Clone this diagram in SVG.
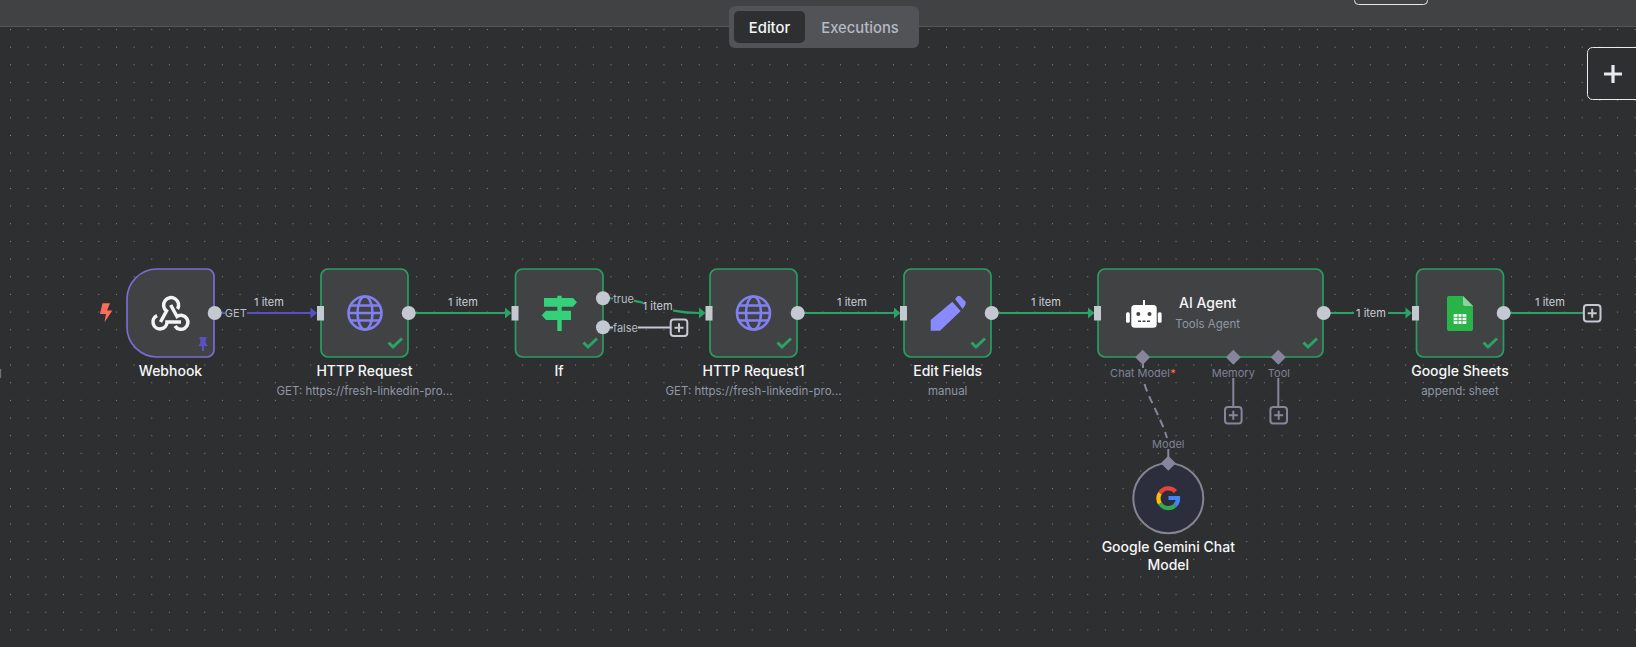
<svg xmlns="http://www.w3.org/2000/svg" width="1636" height="647" viewBox="0 0 1636 647">
<style>
text{font-family:Inter,"Liberation Sans",sans-serif;text-anchor:middle}
.t{font-size:14px;font-weight:500;fill:#f5f6f8}
.s{font-size:11.500px;fill:#8f97a6}
.i{font-size:11px;fill:#cbd0d8}
.h{font-size:11px;fill:#7f8298}
.p{font-size:11px;fill:#b7bcc6}
.tab{font-size:14.800px;font-weight:500}
.n{fill:#414244;stroke:#2a9d63;stroke-width:1.700}
.in{fill:#c4c8d1}
.out{fill:#c4c8d1}
.c{fill:none;stroke:#2aa366;stroke-width:2.200}
.a{fill:#2aa366}
.ck{fill:none;stroke:#2aa366;stroke-width:3}
.d{fill:#85869c}
.sub{fill:none;stroke:#85869c;stroke-width:2}
.g{fill:none;stroke:#8080f0;stroke-width:2.600}
.bg{fill:#2e2f30}
</style>
<defs>
<pattern id="dots" x="10" y="29" width="17.660" height="17.660" patternUnits="userSpaceOnUse"><rect x="0" y="0" width="1" height="1" fill="#85878a"/></pattern>
<g id="globe"><circle r="16.500" class="g"/><ellipse rx="7.500" ry="16.500" class="g"/><path class="g" d="M-16.500 0H16.500M-14.500-7.500H14.500M-14.500 7.500H14.500"/></g>
<path id="check" class="ck" d="M-6.500-1.500l4.500 4.500 9-8.500"/>
<g id="plus"><rect x="-8.300" y="-8.300" width="16.600" height="16.600" rx="3" fill="#2e2f30" stroke-width="2"/><path d="M-4.500 0H4.500M0-4.500V4.500" stroke-width="2" fill="none"/></g>
</defs>
<rect width="1636" height="647" class="bg"/>
<rect width="1636" height="647" fill="url(#dots)"/>
<rect width="1636" height="26" fill="#414244"/>
<rect y="26" width="1636" height="1" fill="#555658"/>
<path d="M0.500 369V378" stroke="#6d6f72" stroke-width="1.400" fill="none"/>

<g id="header">
<rect x="1354.500" y="-12" width="73" height="16.500" rx="4" fill="none" stroke="#e4e6ea"/>
<rect x="729" y="6" width="190" height="42" rx="6" fill="#525356"/>
<rect x="734" y="11" width="71" height="32" rx="5" fill="#2e2f30"/>
<text x="769.500" y="33" class="tab" fill="#f5f6f8">Editor</text>
<text x="860" y="33" class="tab" fill="#b3b9c5">Executions</text>
<rect x="1587.500" y="47.500" width="60" height="52" rx="5" fill="#2e2f30" stroke="#e8eaee"/>
<path d="M1604 74H1622M1613 65V83" stroke="#e8eaf2" stroke-width="3.200" fill="none"/>
</g>

<g id="connectors">
<path d="M214 313H311" fill="none" stroke="#5b4fc4" stroke-width="2.200"/>
<path d="M310.500 307.500L317 313L310.500 318.500Z" fill="#5b4fc4"/>
<path class="c" d="M408 313H505"/><path class="a" d="M505 307.500L511.500 313L505 318.500Z"/>
<path class="c" d="M603 298C650 298 660 313 699 313"/><path class="a" d="M699 307.500L705.500 313L699 318.500Z"/>
<path d="M603 327.500H670" fill="none" stroke="#c4c8d1" stroke-width="2"/>
<path class="c" d="M797 313H894"/><path class="a" d="M894 307.500L900.500 313L894 318.500Z"/>
<path class="c" d="M991 313H1088"/><path class="a" d="M1088 307.500L1094.500 313L1088 318.500Z"/>
<path class="c" d="M1323 313H1406"/><path class="a" d="M1405.500 307.500L1412 313L1405.500 318.500Z"/>
<path class="c" d="M1503 313H1583"/>
<path d="M1143 358V368" class="sub"/>
<path d="M1144.500 384C1148 397 1162 420 1167 438" fill="none" stroke="#85869c" stroke-width="2" stroke-dasharray="8 5"/>
<path d="M1168.300 449V460" class="sub"/>
<path d="M1233.300 378V406M1278.300 378V406" class="sub"/>
</g>

<g id="webhook">
<path d="M157 269H207a7 7 0 0 1 7 7V350a7 7 0 0 1-7 7H157a30 30 0 0 1-30-30V299a30 30 0 0 1 30-30Z" fill="#414244" stroke="#7c6bd0" stroke-width="1.700"/>
<g fill="none" stroke="#f4f4f4" stroke-width="3.500">
<path d="M160.500 322L166.500 311A7.500 7.500 0 1 1 177.500 309"/>
<path d="M170.700 305L177 316.500A7 7 0 1 1 175 326"/>
<path d="M181 322H167A7 7 0 1 1 157 315.600"/>
</g>
<path d="M199.500 337H206.500V339L205.500 340L206 343.500L208 346H204V351H202V346H198L200 343.500L200.500 340L199.500 339Z" fill="#5b4fc4"/>
<path d="M102.500 303.300H110L107 310.500H112.300L104.500 322.300L106 314H100Z" fill="#ff6d5a"/>
<circle cx="214.700" cy="313" r="7" class="out"/>
<rect x="225" y="306" width="22" height="14" class="bg"/>
<text x="235.800" y="317" class="p">GET</text>
<text x="269" y="305.500" class="i">1 item</text>
<text x="170.500" y="375.700" class="t">Webhook</text>
</g>

<g id="http-request">
<rect x="321" y="269" width="87" height="88" rx="7" class="n"/>
<rect x="317" y="306" width="7" height="14.500" class="in"/>
<use href="#globe" x="365" y="313"/>
<use href="#check" x="395" y="344"/>
<circle cx="408.700" cy="313" r="7" class="out"/>
<text x="463" y="305.500" class="i">1 item</text>
<text x="364.500" y="375.700" class="t">HTTP Request</text>
<text x="364.500" y="395" class="s">GET: https://fresh-linkedin-pro...</text>
</g>

<g id="if">
<rect x="515.500" y="269" width="87.500" height="88" rx="7" class="n"/>
<rect x="511.500" y="306" width="7" height="14.500" class="in"/>
<path d="M557.300 295.700H561.700V298H573L577 302.300L573 306.700H561.700V310.700H571V320H561.700V331H557.300V320H546L541.700 315.300L546 310.700H557.300V306.700H544V298H557.300Z" fill="#35d07a"/>
<use href="#check" x="590" y="344"/>
<circle cx="603" cy="298.300" r="7" class="out"/>
<circle cx="603" cy="327.300" r="7" class="out"/>
<rect x="613" y="292" width="21" height="13" class="bg"/>
<text x="623.500" y="302.500" class="p">true</text>
<rect x="613" y="321" width="25" height="13" class="bg"/>
<text x="625.500" y="331.500" class="p">false</text>
<use href="#plus" x="679" y="327.700" stroke="#c4c8d1"/>
<rect x="643" y="299" width="30" height="13" class="bg"/>
<text x="657.700" y="309.500" class="i">1 item</text>
<text x="559" y="375.700" class="t">If</text>
</g>

<g id="http-request1">
<rect x="710" y="269" width="87" height="88" rx="7" class="n"/>
<rect x="705.500" y="306" width="7" height="14.500" class="in"/>
<use href="#globe" x="753.500" y="313"/>
<use href="#check" x="784" y="344"/>
<circle cx="797.700" cy="313" r="7" class="out"/>
<text x="852" y="305.500" class="i">1 item</text>
<text x="753.500" y="375.700" class="t">HTTP Request1</text>
<text x="753.500" y="395" class="s">GET: https://fresh-linkedin-pro...</text>
</g>

<g id="edit-fields">
<rect x="904" y="269" width="87" height="88" rx="7" class="n"/>
<rect x="900" y="306" width="7" height="14.500" class="in"/>
<path d="M930.700 330.700V320L952.300 301.700L960.700 311L940 330.700ZM955 299L957.700 296H960L965.700 301.700V304.300L962.700 309Z" fill="#8a8aff"/>
<use href="#check" x="978" y="344"/>
<circle cx="991.700" cy="313" r="7" class="out"/>
<text x="1046" y="305.500" class="i">1 item</text>
<text x="947.700" y="375.700" class="t">Edit Fields</text>
<text x="947.700" y="394.500" class="s">manual</text>
</g>

<g id="ai-agent">
<rect x="1098" y="269" width="225" height="88" rx="7" class="n"/>
<rect x="1094" y="306" width="7" height="14.500" class="in"/>
<rect x="1143" y="300" width="2" height="6" fill="#fff"/>
<rect x="1131.300" y="305" width="25.400" height="22.700" rx="3.500" fill="#fff"/>
<rect x="1126" y="312.300" width="3.800" height="10.400" rx="1.500" fill="#fff"/>
<rect x="1157.800" y="312.300" width="3.800" height="10.400" rx="1.500" fill="#fff"/>
<circle cx="1138.300" cy="314" r="2" fill="#414244"/><circle cx="1149.500" cy="314" r="2" fill="#414244"/>
<path d="M1138 321.300H1150" stroke="#414244" stroke-width="1.600" stroke-dasharray="3 1.500" fill="none"/>
<text x="1207.700" y="307.700" class="t">AI Agent</text>
<text x="1207.700" y="327.700" class="s">Tools Agent</text>
<use href="#check" x="1310" y="344"/>
<circle cx="1323.700" cy="313" r="7" class="out"/>
<path class="d" d="M1142.700 349.800L1150.200 357.300L1142.700 364.800L1135.200 357.300ZM1233.300 349.800L1240.800 357.300L1233.300 364.800L1225.800 357.300ZM1278.300 349.800L1285.800 357.300L1278.300 364.800L1270.800 357.300Z"/>
<text x="1140" y="376.700" class="h">Chat Model</text>
<text x="1173" y="376.700" style="font-size:11px;fill:#ff6d5a">*</text>
<text x="1233.300" y="376.700" class="h">Memory</text>
<text x="1278.900" y="376.700" class="h">Tool</text>
<use href="#plus" x="1233.300" y="415.200" stroke="#85869c"/>
<use href="#plus" x="1278.700" y="415.200" stroke="#85869c"/>
<rect x="1354" y="306" width="34" height="14" class="bg"/>
<text x="1371" y="317" class="i">1 item</text>
</g>

<g id="google-sheets">
<rect x="1416.500" y="269" width="87" height="88" rx="7" class="n"/>
<rect x="1412" y="306" width="7" height="14.500" class="in"/>
<path d="M1449 296H1463L1473 306V329A2 2 0 0 1 1471 331H1449A2 2 0 0 1 1447 329V298A2 2 0 0 1 1449 296Z" fill="#28b446"/>
<path d="M1463 296L1473 306H1465A2 2 0 0 1 1463 304Z" fill="#8ed1a0"/>
<path d="M1453.700 314H1466.300V324H1453.700Z" fill="#fff"/>
<path d="M1453.700 317.300H1466.300M1453.700 320.700H1466.300M1458 314V324M1462 314V324" stroke="#28b446" fill="none"/>
<use href="#check" x="1490" y="344"/>
<circle cx="1503.700" cy="313" r="7" class="out"/>
<text x="1550" y="305.500" class="i">1 item</text>
<use href="#plus" x="1592.200" y="313.300" stroke="#c4c8d1"/>
<text x="1460" y="375.700" class="t">Google Sheets</text>
<text x="1460" y="395" class="s">append: sheet</text>
</g>

<g id="google-gemini">
<circle cx="1168.300" cy="498.300" r="35" fill="#2d2e3d" stroke="#85858f" stroke-width="2"/>
<path class="d" d="M1168.300 455.800L1175.800 463.300L1168.300 470.800L1160.800 463.300Z"/>
<text x="1168.300" y="447.700" class="h">Model</text>
<g fill="none" stroke-width="4.200">
<path d="M1175.500 491.500A9.800 9.800 0 0 0 1160 493" stroke="#ea4335"/>
<path d="M1160 493A9.800 9.800 0 0 0 1160 503.500" stroke="#fbbc05"/>
<path d="M1160 503.500A9.800 9.800 0 0 0 1175 505.500" stroke="#34a853"/>
<path d="M1175 505.500A9.800 9.800 0 0 0 1178 498H1168.500" stroke="#4285f4"/>
</g>
<text x="1168.300" y="552.300" class="t">Google Gemini Chat</text>
<text x="1168.300" y="570" class="t">Model</text>
</g>
</svg>
